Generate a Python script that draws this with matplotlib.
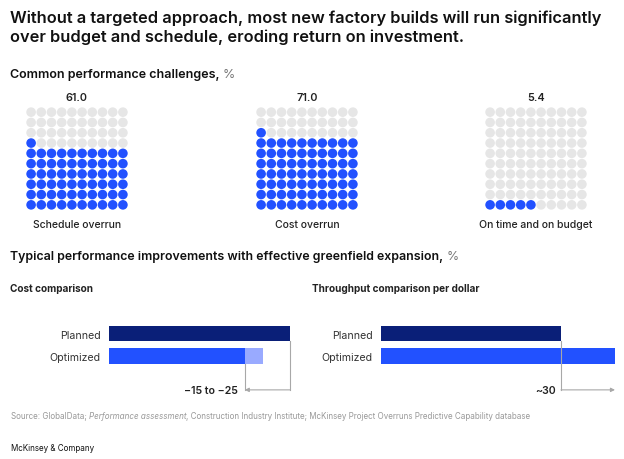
import numpy as np
import matplotlib.pyplot as plt

W, H = 624, 460
plt.rcParams['font.family'] = ['Inter', 'DejaVu Sans']

# data
challenge_labels = ['Schedule overrun', 'Cost overrun', 'On time and on budget']
challenge_values = [61.0, 71.0, 5.4]

bar_categories = ['Planned', 'Optimized']
cost_values = [100, 75]
cost_range_end = 85
cost_note = '\u221215 to \u221225'
throughput_values = [100, 130]
throughput_note = '~30'

title = ('Without a targeted approach, most new factory builds will run significantly\n'
         'over budget and schedule, eroding return on investment.')

navy = '#0a1f78'
blue = '#2251ff'
light_blue = '#99aaff'
dot_gray = '#e6e6e6'
line_gray = '#a8a8a8'
text_dark = '#222222'

fig = plt.figure(figsize=(W / 100, H / 100), dpi=100)
renderer = fig.canvas.get_renderer()


def fx(x):
    return x / W


def fy(y):
    return 1 - y / H


def add_ax(left, top, width, height):
    return fig.add_axes([left / W, 1 - (top + height) / H, width / W, height / H])


def text_run(x, y, parts, **kw):
    # place pieces of text one after the other on a line
    for s, style in parts:
        t = fig.text(fx(x), fy(y), s, va='center', **kw, **style)
        x += t.get_window_extent(renderer).width


fig.text(fx(10), fy(27.5), title, va='center', fontsize=11.8, fontweight='semibold',
         color='#111111', linespacing=1.26)

text_run(10, 75, [('Common performance challenges, ', dict(fontweight='semibold', color='#111111')),
                  ('%', dict(color='#777777'))], fontsize=9.0)

# waffle grids
grid_left = [26, 256, 485]
for left, label, value in zip(grid_left, challenge_labels, challenge_values):
    ax = add_ax(left, 108, 102, 103)
    n = int(round(value))
    idx = np.arange(100)
    colors = np.where(idx < n, blue, dot_gray)
    ax.scatter(idx % 10, idx // 10, s=48, c=colors, linewidths=0)
    ax.set_xlim(-0.5, 9.5)
    ax.set_ylim(-0.5, 9.5)
    ax.axis('off')
    ax.text(4.5, 10.45, f'{value:.1f}', ha='center', va='center', fontsize=7.8,
            fontweight='semibold', color=text_dark, clip_on=False)
    ax.text(4.5, -1.85, label, ha='center', va='center', fontsize=7.5,
            fontweight='medium', color=text_dark, clip_on=False)

text_run(10, 257, [('Typical performance improvements with effective greenfield expansion, ',
                    dict(fontweight='semibold', color='#111111')),
                   ('%', dict(color='#777777'))], fontsize=8.9)

fig.text(fx(10), fy(289), 'Cost comparison', va='center', fontsize=7.2,
         fontweight='bold', color=text_dark)
fig.text(fx(312), fy(289), 'Throughput comparison per dollar', va='center', fontsize=7.2,
         fontweight='bold', color=text_dark)

bh = 0.68
yb = -1.52


def bar_panel(left, width, xmax, values):
    ax = add_ax(left, 320, width, 76)
    ax.barh([1, 0], values, height=bh, color=[navy, blue], zorder=2)
    ax.set_xlim(0, xmax)
    ax.set_ylim(-1.75, 1.66)
    ax.set_yticks([1, 0])
    ax.set_yticklabels(bar_categories)
    ax.set_xticks([])
    ax.tick_params(axis='y', length=0, pad=6, labelsize=7.6, labelcolor='#333333')
    for sp in ax.spines.values():
        sp.set_visible(False)
    return ax


# cost comparison
ax1 = bar_panel(109, 181, 100, cost_values)
ax1.barh(0, cost_range_end - cost_values[1], left=cost_values[1], height=bh,
         color=light_blue, zorder=2)
ax1.plot([cost_values[0]] * 2, [1 - bh / 2, yb], color=line_gray, lw=0.8, clip_on=False)
ax1.plot([cost_values[1]] * 2, [-bh / 2, yb], color=line_gray, lw=0.8, clip_on=False)
ax1.annotate('', xy=(cost_values[1], yb), xytext=(cost_values[0], yb),
             arrowprops=dict(arrowstyle='-|>', color=line_gray, lw=0.8,
                             mutation_scale=6, shrinkA=0, shrinkB=0))
ax1.text(cost_values[1] - 4, yb, cost_note, ha='right', va='center', fontsize=7.6,
         fontweight='semibold', color=text_dark)

# throughput comparison
ax2 = bar_panel(381, 234, 130, throughput_values)
ax2.plot([throughput_values[0]] * 2, [1 - bh / 2, yb], color=line_gray, lw=0.8,
         clip_on=False, zorder=3)
ax2.annotate('', xy=(throughput_values[1], yb), xytext=(throughput_values[0], yb),
             arrowprops=dict(arrowstyle='-|>', color=line_gray, lw=0.8,
                             mutation_scale=6, shrinkA=0, shrinkB=0),
             annotation_clip=False)
ax2.text(throughput_values[0] - 3, yb, throughput_note, ha='right', va='center',
         fontsize=7.6, fontweight='semibold', color=text_dark)

# footer
text_run(11, 417, [('Source: GlobalData; ', {}),
                   ('Performance assessment', dict(style='italic')),
                   (', Construction Industry Institute; McKinsey Project Overruns '
                    'Predictive Capability database', {})],
         fontsize=5.8, color='#999999')
fig.text(fx(11), fy(449), 'McKinsey & Company', va='center', fontsize=5.8, color='#111111')

fig.savefig('out.png', dpi=100)
